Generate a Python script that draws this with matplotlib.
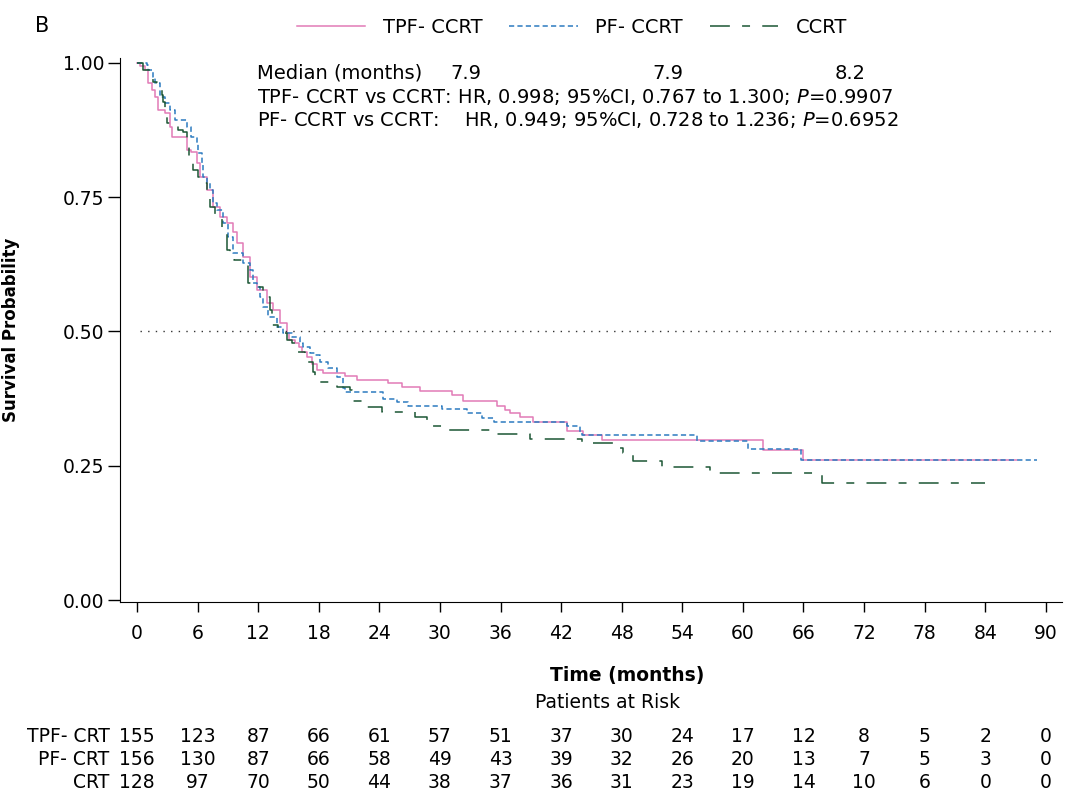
# Kaplan-Meier style survival plot with risk table
import numpy as np
import matplotlib
matplotlib.use('Agg')
import matplotlib.pyplot as plt
from matplotlib.transforms import blended_transform_factory

# Step curves (time in months, survival after each drop)
tpf_t = [0, 0.3, 0.8, 1.1, 1.5, 1.8, 2.1, 2.8, 3.3, 3.5, 5.0, 5.4, 5.9, 6.2, 6.9, 7.5, 8.2, 8.9, 9.5, 9.9,
         10.5, 11.2, 11.9, 12.9, 13.5, 14.2, 14.9, 15.1, 15.6, 16.0, 16.3, 16.8, 17.3, 17.8, 18.4, 20.6,
         21.8, 24.9, 26.2, 28.0, 31.2, 32.3, 35.7, 36.4, 36.9, 37.9, 39.2, 42.6, 44.2, 46.0, 62.0, 66.0, 87.1]
tpf_s = [1.0, 0.994, 0.987, 0.963, 0.950, 0.937, 0.912, 0.907, 0.881, 0.862, 0.838, 0.834, 0.814, 0.788,
         0.763, 0.732, 0.713, 0.702, 0.685, 0.665, 0.639, 0.601, 0.577, 0.553, 0.540, 0.516, 0.497, 0.484,
         0.479, 0.471, 0.462, 0.453, 0.440, 0.428, 0.423, 0.417, 0.410, 0.404, 0.397, 0.389, 0.382, 0.371,
         0.361, 0.354, 0.348, 0.341, 0.331, 0.315, 0.307, 0.298, 0.279, 0.261, 0.261]

pf_t = [0, 1.0, 1.1, 1.6, 1.8, 2.3, 2.8, 3.3, 3.8, 5.0, 5.4, 5.9, 6.0, 6.4, 6.5, 6.9, 7.2, 7.5, 7.9, 8.5,
        9.0, 9.5, 10.5, 11.2, 11.5, 11.9, 12.2, 12.5, 13.0, 13.9, 14.5, 15.4, 16.1, 16.4, 17.1, 17.6, 18.1,
        18.9, 19.8, 20.4, 20.6, 24.4, 25.7, 26.8, 30.2, 32.7, 34.2, 35.4, 42.6, 43.9, 44.1, 55.5, 60.5,
        65.8, 89.1]
pf_s = [1.0, 0.996, 0.987, 0.974, 0.963, 0.937, 0.926, 0.912, 0.894, 0.881, 0.862, 0.851, 0.832, 0.814,
        0.788, 0.777, 0.763, 0.739, 0.726, 0.702, 0.676, 0.646, 0.628, 0.615, 0.590, 0.583, 0.564, 0.546,
        0.527, 0.508, 0.497, 0.490, 0.479, 0.471, 0.460, 0.456, 0.443, 0.432, 0.415, 0.395, 0.387, 0.374,
        0.369, 0.361, 0.356, 0.348, 0.339, 0.331, 0.324, 0.313, 0.307, 0.296, 0.281, 0.261, 0.261]

crt_t = [0, 0.6, 1.6, 2.0, 2.5, 2.6, 2.8, 3.0, 4.1, 4.6, 5.0, 5.2, 5.5, 6.0, 6.2, 6.9, 7.2, 7.7, 8.4, 8.9,
         9.2, 9.6, 11.0, 11.9, 12.5, 13.2, 13.4, 14.0, 14.9, 15.4, 15.6, 16.6, 16.8, 17.4, 17.6, 19.8, 21.1,
         21.3, 22.8, 24.3, 27.5, 28.7, 30.7, 35.6, 38.9, 44.1, 47.5, 48.1, 49.1, 52.0, 56.7, 67.8, 84.0]
crt_s = [1.0, 0.987, 0.965, 0.963, 0.940, 0.927, 0.912, 0.888, 0.875, 0.872, 0.851, 0.825, 0.801, 0.788,
         0.777, 0.758, 0.732, 0.713, 0.689, 0.652, 0.646, 0.633, 0.590, 0.583, 0.564, 0.540, 0.512, 0.497,
         0.484, 0.479, 0.462, 0.451, 0.443, 0.425, 0.406, 0.397, 0.391, 0.371, 0.359, 0.350, 0.341, 0.324,
         0.317, 0.309, 0.300, 0.292, 0.283, 0.274, 0.259, 0.248, 0.236, 0.218, 0.218]

# Patients at risk table
risk_times = list(range(0, 91, 6))
risk_labels = ['TPF- CRT', 'PF- CRT', 'CRT']
risk_tpf = [155, 123, 87, 66, 61, 57, 51, 37, 30, 24, 17, 12, 8, 5, 2, 0]
risk_pf = [156, 130, 87, 66, 58, 49, 43, 39, 32, 26, 20, 13, 7, 5, 3, 0]
risk_crt = [128, 97, 70, 50, 44, 38, 37, 36, 31, 23, 19, 14, 10, 6, 0, 0]

legend_names = ['TPF- CCRT', 'PF- CCRT', 'CCRT']
medians = ['7.9', '7.9', '8.2']

pink = '#E27BB7'
blue = '#2C7BC0'
green = '#1B5634'

fig = plt.figure(figsize=(10.67, 8), dpi=100)
ax = fig.add_axes([120 / 1067, 198 / 800, 942 / 1067, 544 / 800])

ax.step(tpf_t, tpf_s, where='post', color=pink, lw=1.1, label=legend_names[0])
ax.step(pf_t, pf_s, where='post', color=blue, lw=1.1, ls=(0, (3.4, 2.1)), label=legend_names[1])
ax.step(crt_t, crt_s, where='post', color=green, lw=1.1, ls=(0, (13, 8, 5.2, 8)), label=legend_names[2])

ax.hlines(0.5, 0.3, 91, colors='#333333', linestyles=(0, (1, 4.5)), lw=1)

ax.set_xlim(-1.68, 91.6)
ax.set_ylim(-0.0037, 1.009)
ax.set_xticks(risk_times)
ax.set_yticks([0, 0.25, 0.5, 0.75, 1.0])
ax.set_yticklabels(['0.00', '0.25', '0.50', '0.75', '1.00'])
ax.tick_params(axis='both', direction='out', width=1, labelsize=13.5)
ax.tick_params(axis='x', length=7.5, pad=8)
ax.tick_params(axis='y', length=9, pad=2)
for s in ['top', 'right']:
    ax.spines[s].set_visible(False)

ax.set_ylabel('Survival Probability', fontsize=12, fontweight='bold')
ax.yaxis.set_label_coords(-0.106, 0.5)

# annotation block
ax.text(11.9, 0.981, 'Median (months)', fontsize=14, va='center', ha='left')
for x, m in zip([32.6, 52.6, 70.6], medians):
    ax.text(x, 0.981, m, fontsize=14, va='center', ha='center')
ax.text(11.9, 0.937, 'TPF- CCRT vs CCRT: HR, 0.998; 95%CI, 0.767 to 1.300; $\\mathit{P}$=0.9907',
        fontsize=14, va='center', ha='left')
ax.text(11.9, 0.894, 'PF- CCRT vs CCRT:    HR, 0.949; 95%CI, 0.728 to 1.236; $\\mathit{P}$=0.6952',
        fontsize=14, va='center', ha='left')

fig.legend(loc='center', bbox_to_anchor=(0.536, 0.966), ncol=3, frameon=False, fontsize=14,
           handlelength=3.5, handletextpad=0.9, columnspacing=1.4)
fig.text(0.033, 0.968, 'B', fontsize=15, va='center', ha='left')

fig.text(627 / 1067, 1 - 675 / 800, 'Time (months)', fontsize=13.5, fontweight='bold', ha='center', va='center')
fig.text(608 / 1067, 1 - 703 / 800, 'Patients at Risk', fontsize=13.5, ha='center', va='center')

trans = blended_transform_factory(ax.transData, fig.transFigure)
for row, (lab, vals) in enumerate(zip(risk_labels, [risk_tpf, risk_pf, risk_crt])):
    y = 1 - (736 + 23.5 * row) / 800
    ax.text(-2.7, y, lab, transform=trans, fontsize=13.5, ha='right', va='center')
    for t, v in zip(risk_times, vals):
        ax.text(t, y, str(v), transform=trans, fontsize=13.5, ha='center', va='center')

fig.savefig('out.png', dpi=100)
